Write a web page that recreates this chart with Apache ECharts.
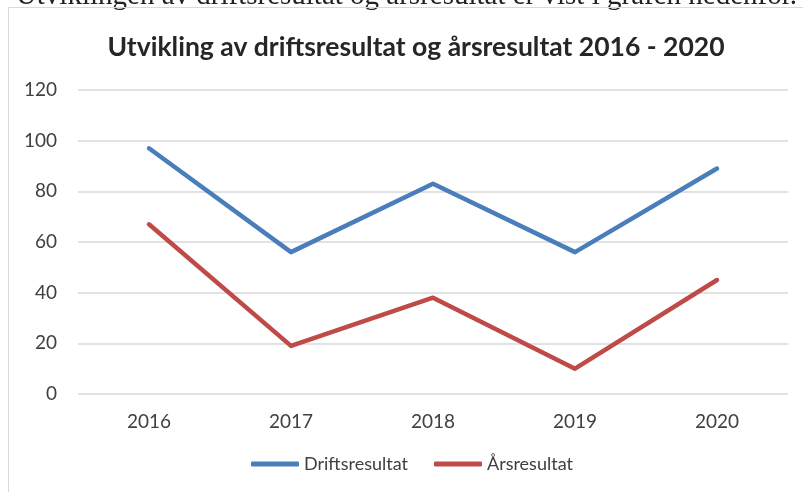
<!DOCTYPE html>
<html>
<head>
<meta charset="utf-8">
<script src="https://cdn.jsdelivr.net/npm/echarts@6/dist/echarts.min.js"></script>
<style>
html,body{margin:0;padding:0;background:#fff;}
#chart{width:803px;height:492px;}
</style>
</head>
<body>
<div id="chart"></div>
<script>
var years = ['2016', '2017', '2018', '2019', '2020'];
var drift = [97, 56, 83, 56, 89];
var aars = [67, 19, 38, 10, 45];
var yTicks = {min: 0, max: 120, interval: 20};

var myChart = echarts.init(document.getElementById('chart'));

var option = {
    backgroundColor: '#fff',
    animation: false,
    title: {
        text: 'Utvikling av driftsresultat og årsresultat 2016 - 2020',
        left: 411,
        top: 29,
        textAlign: 'center',
        textStyle: {
            fontFamily: 'Lato',
            fontWeight: 'bold',
            fontSize: 26.5,
            color: '#262626'
        }
    },
    graphic: [
        {
            // cut off sentence from the page above the chart
            type: 'text',
            right: 6,
            top: -18,
            style: {
                text: 'Utviklingen av driftsresultat og årsresultat er vist i grafen nedenfor.',
                font: '29px "Liberation Serif"',
                fill: '#222'
            }
        },
        {
            type: 'rect',
            shape: {x: 8.5, y: 7.5, width: 900, height: 600},
            style: {fill: 'none', stroke: '#d9d9d9', lineWidth: 1}
        }
    ],
    legend: {
        bottom: 14,
        left: 246,
        icon: 'roundRect',
        itemWidth: 48,
        itemHeight: 5,
        itemGap: 26,
        textStyle: {fontFamily: 'Lato', fontSize: 18, color: '#404040'},
        data: ['Driftsresultat', 'Årsresultat']
    },
    grid: {left: 78, right: 15, top: 90, bottom: 98},
    xAxis: {
        type: 'category',
        data: years,
        boundaryGap: true,
        axisLine: {show: false},
        axisTick: {show: false},
        axisLabel: {fontFamily: 'Lato', fontSize: 19, color: '#404040', margin: 18}
    },
    yAxis: {
        type: 'value',
        min: yTicks.min,
        max: yTicks.max,
        interval: yTicks.interval,
        axisLine: {show: false},
        axisTick: {show: false},
        axisLabel: {fontFamily: 'Lato', fontSize: 19, color: '#404040', margin: 21},
        splitLine: {lineStyle: {color: '#d9d9d9', width: 1.5}}
    },
    series: [
        {
            name: 'Driftsresultat',
            type: 'line',
            data: drift,
            symbol: 'none',
            color: '#4a7ebb',
            lineStyle: {width: 4.5, cap: 'round', join: 'round'}
        },
        {
            name: 'Årsresultat',
            type: 'line',
            data: aars,
            symbol: 'none',
            color: '#be4b48',
            lineStyle: {width: 4.5, cap: 'round', join: 'round'}
        }
    ]
};

myChart.setOption(option);
</script>
</body>
</html>
